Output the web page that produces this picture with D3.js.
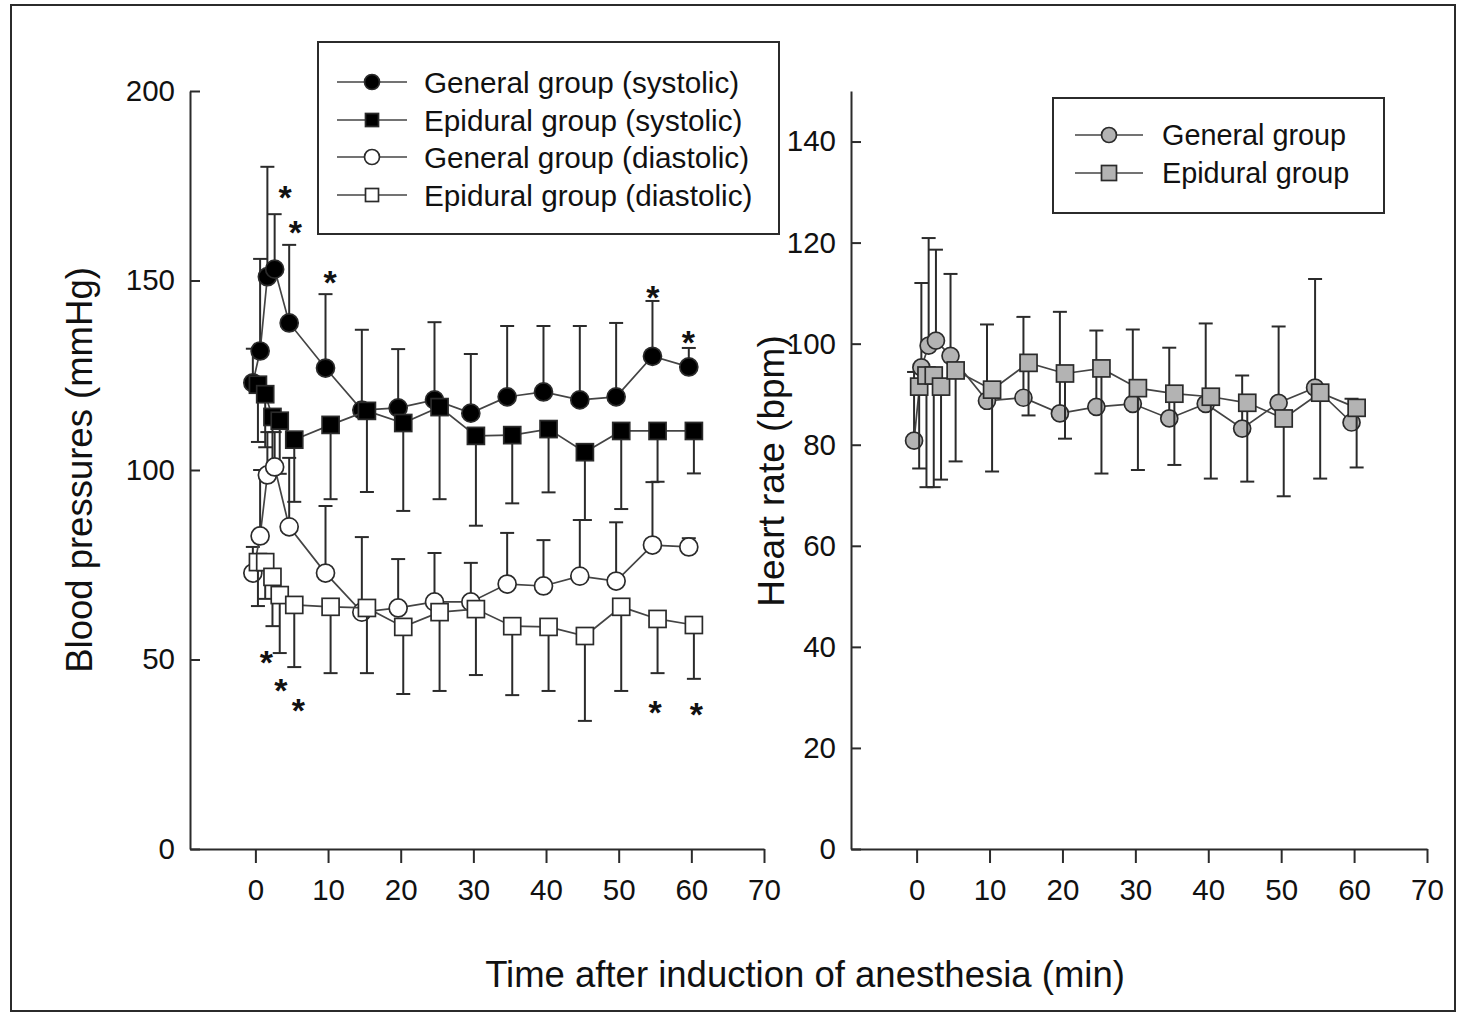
<!DOCTYPE html>
<html><head><meta charset="utf-8">
<script src="https://cdn.jsdelivr.net/npm/d3@7"></script>
<style>
body{margin:0;background:#fff}
svg{display:block}
text{font-family:"Liberation Sans",Arial,sans-serif;fill:#111}
</style>
</head><body>
<svg id="c" width="1459" height="1015"></svg>
<script>
// ---------- data ----------
const times = [0,1,2,3,5,10,15,20,25,30,35,40,45,50,55,60];
const xTicks = [0,10,20,30,40,50,60,70];
const bpTicks = [0,50,100,150,200];
const hrTicks = [0,20,40,60,80,100,120,140];

const generalSystolic   = [123,131.4,151,153,138.8,126.9,115.8,116.4,118.5,115,119.3,120.6,118.5,119.3,130,127.2];
const generalSystolicSD = [9,24.3,29,14.5,20.6,19.5,21.2,15.5,20.5,15.6,18.7,17.4,19.5,19.5,14.6,5];
const epiduralSystolic   = [122.5,120,114,113,108,111.9,115.6,112.4,116.6,109,109.2,110.8,104.7,110.3,110.3,110.3];
const epiduralSystolicSD = [15.1,14,13,14,16.4,19.6,21.4,23.2,24.3,23.7,18,16.7,17.9,20.6,13.4,11.2];
const generalDiastolic   = [72.8,82.6,98.7,100.8,85,72.8,62.5,63.6,65.2,65.2,69.9,69.4,72,70.7,80.2,79.7];
const generalDiastolicSD = [6.9,17.4,11.3,9.2,18.2,17.7,19.8,12.9,12.9,10.3,13.5,12.1,14.8,15.5,16.6,2.3];
const epiduralDiastolic   = [75.7,75.7,71.8,67,64.4,63.9,63.6,58.6,62.5,63.3,58.8,58.6,56.2,63.9,60.7,59.1];
const epiduralDiastolicSD = [11.6,9.7,13,15.3,16.4,17.5,17.2,17.7,20.8,17.4,18.2,16.9,22.4,22.2,14.3,14.2];

const generalHR   = [80.8,95.3,99.6,100.6,97.6,88.7,89.3,86.2,87.5,88.1,85.2,88.1,83.2,88.3,91.3,84.4];
const generalHRSD = [13.6,16.7,21.3,18,16.2,15.1,16,20.1,15.1,14.7,14,15.9,10.5,15.1,21.5,4.7];
const epiduralHR   = [91.5,93.7,93.7,91.5,94.7,90.9,96.2,94.1,95.1,91.2,90.1,89.5,88.3,85.2,90.3,87.3];
const epiduralHRSD = [16.2,22.1,22.1,18.4,18,16.2,10.4,12.9,20.8,16.2,14.1,16.2,15.6,15.4,17,11.8];

// significance markers (time, mmHg)
const starTimes  = [4.1,5.5,10.3,54.7,59.6,1.5,3.5,5.9,55.0,60.7];
const starValues = [173.9,164.6,151.5,147.5,135.6,51.2,43.8,38.5,38.0,37.5];

const bpLegend = ["General group (systolic)","Epidural group (systolic)","General group (diastolic)","Epidural group (diastolic)"];
const hrLegend = ["General group","Epidural group"];

// small horizontal offset between groups (min)
const generalShift = -0.35, epiduralShift = 0.35;

// ---------- drawing ----------
const svg = d3.select('#c');
const INK = '#2b2b2b';

// outer frame
svg.append('rect').attr('x',11).attr('y',5).attr('width',1444).attr('height',1006)
  .attr('fill','none').attr('stroke',INK).attr('stroke-width',2);

const xL = d3.scaleLinear().domain([-9,70]).range([190,764]);
const yL = d3.scaleLinear().domain([0,200]).range([849,91]);
const xR = d3.scaleLinear().domain([-9,70]).range([851,1427]);
const yR = d3.scaleLinear().domain([0,150]).range([849,91]);

function axes(x, y, yt) {
  const gx = svg.append('g').attr('transform','translate(0,849)')
    .call(d3.axisBottom(x).tickValues(xTicks).tickSizeInner(14).tickSizeOuter(0).tickPadding(16));
  const gy = svg.append('g').attr('transform',`translate(${x.range()[0]},0)`)
    .call(d3.axisLeft(y).tickValues(yt).tickSizeInner(-10).tickSizeOuter(0).tickPadding(15));
  [gx,gy].forEach(g=>{
    g.select('.domain').attr('stroke',INK).attr('stroke-width',2);
    g.selectAll('.tick line').attr('stroke',INK).attr('stroke-width',2);
    g.selectAll('.tick text').attr('font-size',29.5).attr('fill','#111')
      .style('font-family','"Liberation Sans",Arial,sans-serif');
  });
}
axes(xL, yL, bpTicks);
axes(xR, yR, hrTicks);

function series(x, y, vals, sd, dir, shift, shape, fill, size) {
  const g = svg.append('g');
  const pts = times.map((t,i)=>({x:x(t+shift), y:y(vals[i]), e:y(vals[i]+dir*sd[i])}));
  g.selectAll(null).data(pts).join('line')
    .attr('x1',d=>d.x).attr('x2',d=>d.x).attr('y1',d=>d.y).attr('y2',d=>d.e)
    .attr('stroke',INK).attr('stroke-width',2);
  g.selectAll(null).data(pts).join('line')
    .attr('x1',d=>d.x-7).attr('x2',d=>d.x+7).attr('y1',d=>d.e).attr('y2',d=>d.e)
    .attr('stroke',INK).attr('stroke-width',2);
  g.append('path').attr('d', d3.line().x(d=>d.x).y(d=>d.y)(pts))
    .attr('fill','none').attr('stroke','#444').attr('stroke-width',1.7);
  marker(g, pts, shape, fill, size);
}
function marker(g, pts, shape, fill, size) {
  if (shape==='circle') {
    g.selectAll(null).data(pts).join('circle')
      .attr('cx',d=>d.x).attr('cy',d=>d.y).attr('r',size/2)
      .attr('fill',fill).attr('stroke',INK).attr('stroke-width',1.7);
  } else {
    g.selectAll(null).data(pts).join('rect')
      .attr('x',d=>d.x-size/2).attr('y',d=>d.y-size/2).attr('width',size).attr('height',size)
      .attr('fill',fill).attr('stroke',INK).attr('stroke-width',1.7);
  }
}

series(xL, yL, generalSystolic, generalSystolicSD, 1, generalShift, 'circle', '#000', 18);
series(xL, yL, epiduralSystolic, epiduralSystolicSD, -1, epiduralShift, 'square', '#000', 17);
series(xL, yL, generalDiastolic, generalDiastolicSD, 1, generalShift, 'circle', '#fff', 18);
series(xL, yL, epiduralDiastolic, epiduralDiastolicSD, -1, epiduralShift, 'square', '#fff', 17);

series(xR, yR, generalHR, generalHRSD, 1, generalShift, 'circle', '#b3b3b3', 17);
series(xR, yR, epiduralHR, epiduralHRSD, -1, epiduralShift, 'square', '#b3b3b3', 17);

// stars
svg.append('g').selectAll('text').data(starTimes).join('text')
  .attr('x',(d,i)=>xL(d)).attr('y',(d,i)=>yL(starValues[i]))
  .attr('dy','0.56em').attr('text-anchor','middle')
  .attr('font-size',34).attr('font-weight','bold').text('*');

// legends
function legend(box, rows, labels, shapes, fills, sizes, lineX, textX, fs) {
  svg.append('rect').attr('x',box[0]).attr('y',box[1]).attr('width',box[2]).attr('height',box[3])
    .attr('fill','#fff').attr('stroke',INK).attr('stroke-width',2);
  labels.forEach((lab,i)=>{
    const g = svg.append('g');
    g.append('line').attr('x1',lineX[0]).attr('x2',lineX[1]).attr('y1',rows[i]).attr('y2',rows[i])
      .attr('stroke','#444').attr('stroke-width',1.7);
    marker(g, [{x:(lineX[0]+lineX[1])/2, y:rows[i]}], shapes[i], fills[i], sizes[i]);
    g.append('text').attr('x',textX).attr('y',rows[i]).attr('dy','0.36em')
      .attr('font-size',fs).text(lab);
  });
}
legend([318,42,461,192],[82,120,157,195],bpLegend,
  ['circle','square','circle','square'],['#000','#000','#fff','#fff'],[15,13,15,13],[337,407],424,29.7);
legend([1053,98,331,115],[135,173],hrLegend,
  ['circle','square'],['#b3b3b3','#b3b3b3'],[15,15],[1075,1143],1162,28.8);

// axis titles
svg.append('text').attr('transform','translate(79,470) rotate(-90)').attr('dy','0.35em')
  .attr('text-anchor','middle').attr('font-size',36.5).text('Blood pressures (mmHg)');
svg.append('text').attr('transform','translate(771,471) rotate(-90)').attr('dy','0.35em')
  .attr('text-anchor','middle').attr('font-size',37).text('Heart rate (bpm)');
svg.append('text').attr('x',805).attr('y',987)
  .attr('text-anchor','middle').attr('font-size',36.5).text('Time after induction of anesthesia (min)');
</script>
</body></html>
